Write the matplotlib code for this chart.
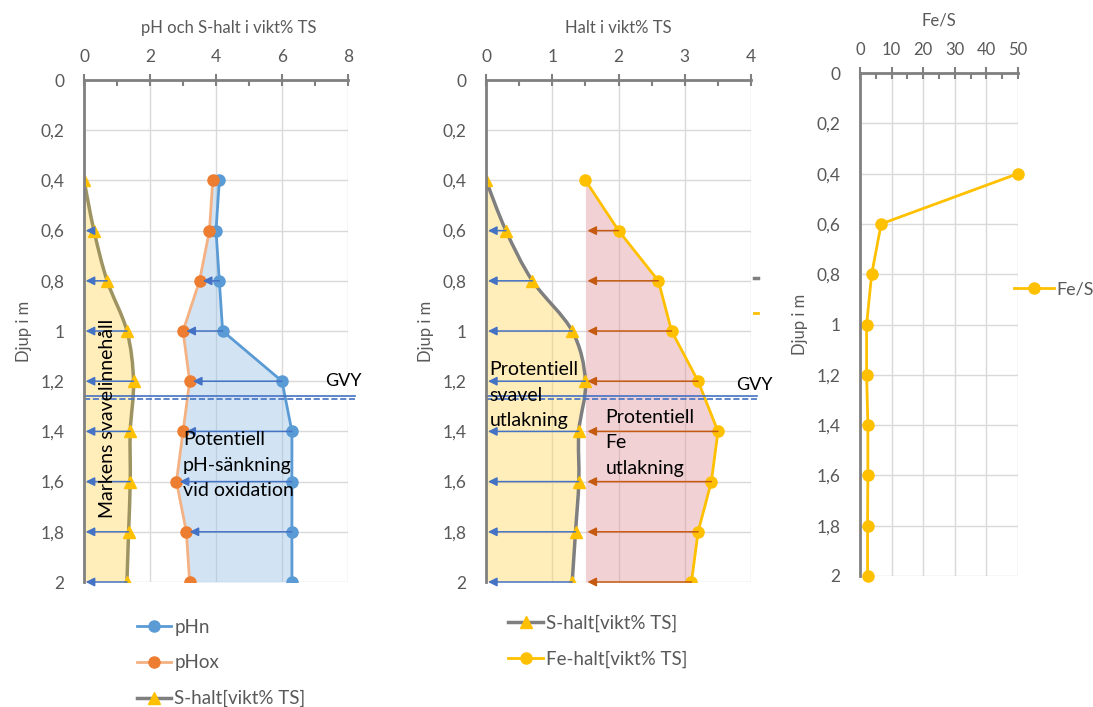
import numpy as np
import matplotlib
matplotlib.use("Agg")
import matplotlib.pyplot as plt
from matplotlib.path import Path
from matplotlib.patches import PathPatch
from matplotlib.lines import Line2D

plt.rcParams['font.family'] = ['Lato', 'DejaVu Sans']

# data
djup = [0.4, 0.6, 0.8, 1.0, 1.2, 1.4, 1.6, 1.8, 2.0]
pHn = [4.1, 4.0, 4.1, 4.2, 6.0, 6.3, 6.3, 6.3, 6.3]
pHox = [3.9, 3.8, 3.5, 3.0, 3.2, 3.0, 2.8, 3.1, 3.2]
s_halt = [0.0, 0.3, 0.7, 1.3, 1.5, 1.4, 1.4, 1.35, 1.3]
fe_halt = [1.5, 2.0, 2.6, 2.8, 3.2, 3.5, 3.4, 3.2, 3.1]
fe_s = [50, 6.7, 3.7, 2.1, 2.1, 2.5, 2.5, 2.4, 2.4]
fe_bas = 1.5
gvy = 1.265
ph_pil_djup = [0.8, 1.0, 1.2, 1.4, 1.6, 1.8]

y_ticks = [0, 0.2, 0.4, 0.6, 0.8, 1.0, 1.2, 1.4, 1.6, 1.8, 2.0]
y_labels = ['0', '0,2', '0,4', '0,6', '0,8', '1', '1,2', '1,4', '1,6', '1,8', '2']

GRAY = '#595959'
BLUE = '#5b9bd5'
ORANGE = '#ed7d31'
YELLOW = '#ffc000'
ARROW_B = '#4472c4'
ARROW_O = '#c55a11'


def smooth(xs, ys):
    # excel-like smoothed line as bezier segments
    pts = list(zip(xs, ys))
    verts = [pts[0]]
    codes = [Path.MOVETO]
    for i in range(len(pts) - 1):
        p0 = pts[i - 1] if i > 0 else pts[i]
        p1 = pts[i]
        p2 = pts[i + 1]
        p3 = pts[i + 2] if i + 2 < len(pts) else p2
        c1 = (p1[0] + (p2[0] - p0[0]) / 6, p1[1] + (p2[1] - p0[1]) / 6)
        c2 = (p2[0] - (p3[0] - p1[0]) / 6, p2[1] - (p3[1] - p1[1]) / 6)
        verts += [c1, c2, p2]
        codes += [Path.CURVE4] * 3
    return verts, codes


def style(ax, xmax, xstep, title):
    ax.set_xlim(0, xmax)
    ax.set_ylim(2, 0)
    ax.xaxis.tick_top()
    ax.xaxis.set_label_position('top')
    ax.set_xticks(np.arange(0, xmax + xstep / 2, xstep))
    ax.set_xticks(np.arange(xstep / 2, xmax, xstep), minor=True)
    ax.set_yticks(y_ticks)
    ax.set_yticklabels(y_labels)
    ax.grid(True, which='major', color='#d9d9d9', lw=1)
    ax.set_axisbelow(True)
    for s in ['right', 'bottom']:
        ax.spines[s].set_visible(False)
    for s in ['top', 'left']:
        ax.spines[s].set_color('#808080')
        ax.spines[s].set_linewidth(2)
    ax.tick_params(axis='x', which='major', direction='inout', length=9, width=1.5,
                   color='#808080', labelsize=12.5, labelcolor=GRAY, pad=6)
    ax.tick_params(axis='x', which='minor', direction='in', length=4, width=1.5, color='#808080')
    ax.tick_params(axis='y', length=0, labelsize=12.5, labelcolor=GRAY, pad=14)
    ax.set_xlabel(title, fontsize=12, color=GRAY, labelpad=12)
    ax.set_ylabel('Djup i m', fontsize=12, color=GRAY, labelpad=6)


def pil(ax, x0, x1, y, color):
    ax.annotate('', xy=(x1, y), xytext=(x0, y),
                arrowprops=dict(arrowstyle='-|>', color=color, lw=1.1,
                                mutation_scale=13, shrinkA=0, shrinkB=0))


fig = plt.figure(figsize=(10.93, 7.07), dpi=100)
ax1 = fig.add_axes([0.0769, 0.1768, 0.2415, 0.7100])
ax2 = fig.add_axes([0.4447, 0.1768, 0.2425, 0.7100])
ax3 = fig.add_axes([0.7868, 0.1853, 0.1446, 0.7114])

# ---- left panel
style(ax1, 8, 2, 'pH och S-halt i vikt% TS')
ax1.xaxis.label.set_x(0.55)
v, c = smooth(s_halt, djup)
fill_v = v + [(0, djup[-1]), (0, djup[0]), v[0]]
fill_c = c + [Path.LINETO, Path.LINETO, Path.CLOSEPOLY]
ax1.add_patch(PathPatch(Path(fill_v, fill_c), facecolor='#ffd966', alpha=0.45, lw=0))
ax1.fill_betweenx(djup, pHox, pHn, color='#9dc3e6', alpha=0.45, lw=0)
ax1.add_patch(PathPatch(Path(v, c), facecolor='none', edgecolor='#9e9462', lw=2.5))
for d, s in zip(djup[1:], s_halt[1:]):
    pil(ax1, s, 0.05, d, ARROW_B)
for d in ph_pil_djup:
    i = djup.index(d)
    pil(ax1, pHn[i], pHox[i] + 0.1, d, ARROW_B)
ax1.plot(pHn, djup, color=BLUE, lw=2, marker='o', ms=8)
ax1.plot(pHox, djup, color='#f4b183', lw=2, marker='o', ms=8, mfc=ORANGE, mec=ORANGE)
ax1.plot(s_halt, djup, lw=0, marker='^', ms=9, color=YELLOW)
ax1.plot([0, 8.2], [gvy - 0.006, gvy - 0.006], color=ARROW_B, lw=1.2, clip_on=False)
ax1.plot([0, 8.2], [gvy + 0.006, gvy + 0.006], color=ARROW_B, lw=1.2, ls='--', clip_on=False)
ax1.text(7.3, 1.2, 'GVY', fontsize=13, va='center', clip_on=False)
ax1.text(0.7, 1.35, 'Markens svavelinnehåll', rotation=90, fontsize=14,
         ha='center', va='center')
ax1.text(3.0, 1.4, 'Potentiell\npH-sänkning\nvid oxidation', fontsize=14,
         va='top', linespacing=1.6)

# ---- middle panel
style(ax2, 4, 1, 'Halt i vikt% TS')
v, c = smooth(s_halt, djup)
fill_v = v + [(0, djup[-1]), (0, djup[0]), v[0]]
ax2.add_patch(PathPatch(Path(fill_v, fill_c), facecolor='#ffd966', alpha=0.45, lw=0))
ax2.fill_betweenx(djup, fe_bas, fe_halt, color='#e39aa0', alpha=0.45, lw=0)
ax2.add_patch(PathPatch(Path(v, c), facecolor='none', edgecolor='#7f7f7f', lw=2.5))
for d, s, f in zip(djup[1:], s_halt[1:], fe_halt[1:]):
    pil(ax2, s, 0.03, d, ARROW_B)
    pil(ax2, f, fe_bas + 0.03, d, ARROW_O)
ax2.plot(fe_halt, djup, color=YELLOW, lw=2, marker='o', ms=8)
ax2.plot(s_halt, djup, lw=0, marker='^', ms=9, color=YELLOW)
ax2.plot([0, 4.09], [gvy - 0.006, gvy - 0.006], color=ARROW_B, lw=1.2, clip_on=False)
ax2.plot([0, 4.09], [gvy + 0.006, gvy + 0.006], color=ARROW_B, lw=1.2, ls='--', clip_on=False)
ax2.text(3.78, 1.215, 'GVY', fontsize=13, va='center', clip_on=False)
ax2.text(0.05, 1.12, 'Protentiell\nsvavel\nutlakning', fontsize=14, va='top', linespacing=1.6)
ax2.text(1.8, 1.31, 'Protentiell\nFe\nutlakning', fontsize=14, va='top', linespacing=1.6)
# remnants of a cropped legend
ax2.plot([4.05, 4.1], [0.79, 0.79], color='#7f7f7f', lw=2.5, clip_on=False)
ax2.plot([4.05, 4.1], [0.93, 0.93], color=YELLOW, lw=2, clip_on=False)

# ---- right panel
style(ax3, 50, 10, 'Fe/S')
ax3.set_xticks(np.arange(5, 50, 10), minor=True)
ax3.tick_params(axis='x', labelsize=12)
ax3.plot(fe_s, djup, color=YELLOW, lw=2, marker='o', ms=8, clip_on=False)

# ---- legends
h_phn = Line2D([], [], color=BLUE, lw=2, marker='o', ms=8)
h_phox = Line2D([], [], color='#f4b183', lw=2, marker='o', ms=8, mfc=ORANGE, mec=ORANGE)
h_s = Line2D([], [], color='#7f7f7f', lw=2.5, marker='^', ms=8, mfc=YELLOW, mec=YELLOW)
h_fe = Line2D([], [], color=YELLOW, lw=2, marker='o', ms=8)
h_fes = Line2D([], [], color=YELLOW, lw=2, marker='o', ms=8)

leg_kw = dict(frameon=False, labelcolor=GRAY, handletextpad=0.15,
              borderpad=0, borderaxespad=0)
fig.legend([h_phn, h_phox, h_s], ['pHn', 'pHox', 'S-halt[vikt% TS]'], fontsize=13.5,
           handlelength=1.85, loc='upper left', bbox_to_anchor=(0.125, 0.125),
           labelspacing=1.0, **leg_kw)
fig.legend([h_s, h_fe], ['S-halt[vikt% TS]', 'Fe-halt[vikt% TS]'], fontsize=13.5,
           handlelength=1.85, loc='upper left', bbox_to_anchor=(0.465, 0.131),
           labelspacing=1.0, **leg_kw)
fig.legend([h_fes], ['Fe/S'], fontsize=13, handlelength=2.2, loc='center left',
           bbox_to_anchor=(0.928, 0.591), **leg_kw)

fig.savefig('out.png', dpi=100)
